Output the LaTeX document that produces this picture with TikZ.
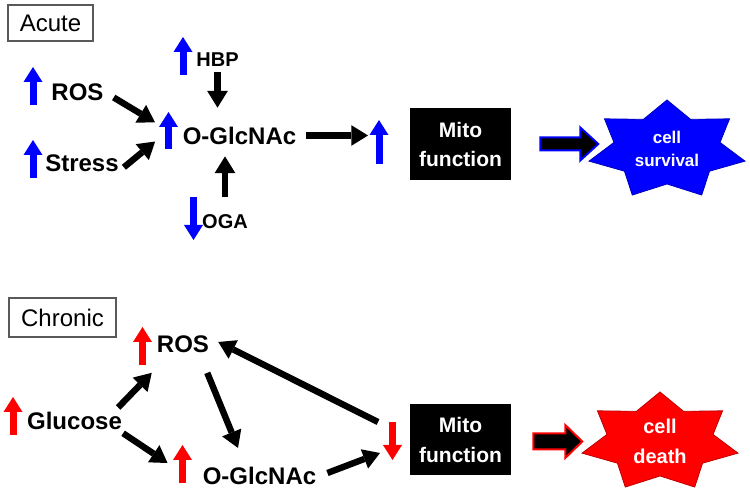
\documentclass[tikz,border=0pt]{standalone}
\usepackage{fontspec}
\setmainfont{Liberation Sans}
\usetikzlibrary{arrows.meta}
\begin{document}
\begin{tikzpicture}[x=0.75pt,y=-0.75pt,
 lbl/.style={inner sep=0pt, font=\bfseries\fontsize{18}{21}\selectfont, text height=12.9pt, text depth=0pt},
 lbls/.style={inner sep=0pt, font=\bfseries\fontsize{15}{18}\selectfont, text height=10.7pt, text depth=0pt},
 tag/.style={draw=black!65, line width=0.9pt, inner sep=0pt, font=\fontsize{18}{21}\selectfont},
 conn/.style={line width=4.8pt, -{Triangle[width=15.5pt,length=12.5pt,line width=0pt]}},
 indB/.style={blue, line width=5.25pt, -{Triangle[width=14.25pt,length=11.25pt,line width=0pt]}},
 indR/.style={indB, red},
 mito/.style={fill=black, text=white, inner sep=0pt, minimum width=75.75pt, align=center, font=\bfseries\fontsize{15.75}{21.75}\selectfont},
 fat/.style={fill=black, line width=1.5pt, line join=miter},
 startxt/.style={text=white, inner sep=0pt, align=center}
]
\useasboundingbox[fill=white] (0,0) rectangle (750,498);

% ---------------- Acute ----------------
\node[tag, minimum width=63.75pt, minimum height=27pt] (acute) at (50.5,23) {Acute};

\node[lbl] (rosA) at (77.5,91.5) {ROS};
\node[lbl] (stressA) at (82,162.5) {Stress};
\node[lbls] (hbpA) at (217.5,59) {HBP};
\node[lbl] (ogA) at (239.5,135.5) {O-GlcNAc};
\node[lbls] (ogaA) at (225,221.5) {OGA};
\node[mito, minimum height=54pt] (mitoA) at (460.5,144) {Mito\\function};

\coordinate (iRosA) at (33,86);
\coordinate (iStressA) at (33,159);
\coordinate (iHbpA) at (183,56);
\coordinate (iOgA) at (168.5,130.5);
\coordinate (iOgaA) at (193.5,218.5);
\coordinate (iMitoA) at (379,142);

\draw[indB] ([shift={(0,19)}]iRosA) -- ([shift={(0,-19)}]iRosA);
\draw[indB] ([shift={(0,19)}]iStressA) -- ([shift={(0,-19)}]iStressA);
\draw[indB] ([shift={(0,19)}]iHbpA) -- ([shift={(0,-19)}]iHbpA);
\draw[indB] ([shift={(0,18.5)}]iOgA) -- ([shift={(0,-18.5)}]iOgA);
\draw[indB] ([shift={(0,-21.5)}]iOgaA) -- ([shift={(0,21.5)}]iOgaA);
\draw[indB] ([shift={(0,22)}]iMitoA) -- ([shift={(0,-22)}]iMitoA);

\draw[conn, shorten <=8.7pt, shorten >=11.8pt] (rosA.east) -- (iOgA);
\draw[conn, shorten <=4.8pt, shorten >=13pt] (stressA.south east) -- (iOgA);
\draw[conn, shorten <=4.5pt, shorten >=14.25pt] (hbpA.south) -- (hbpA.south |- ogA.north);
\draw[conn, shorten <=12.75pt, shorten >=9pt] (ogaA.north) -- (ogaA.north |- ogA.south);
\draw[conn, shorten <=7.5pt, shorten >=8.25pt] (ogA.east) -- (ogA.east -| iMitoA);

% fat arrow and star (survival)
\draw[fat, draw=blue] ([shift={(29,-6.5)}]mitoA.east) -- ++(40,0) -- ++(0,-10) -- ++(18,16.5)
  -- ++(-18,16.5) -- ++(0,-10) -- ++(-40,0) -- cycle;
\begin{scope}[shift={(667,150)}, yscale=-1]
\filldraw[fill=blue, draw=blue!75!black, line width=0.6pt]
 (90:80 and 50) -- (64.286:54.4 and 34) -- (38.571:80 and 50) -- (12.857:54.4 and 34)
 -- (-12.857:80 and 50) -- (-38.571:54.4 and 34) -- (-64.286:80 and 50) -- (-90:54.4 and 34)
 -- (-115.714:80 and 50) -- (-141.429:54.4 and 34) -- (-167.143:80 and 50) -- (167.143:54.4 and 34)
 -- (141.429:80 and 50) -- (115.714:54.4 and 34) -- cycle;
\end{scope}
\node[startxt, font=\bfseries\fontsize{12.75}{17.25}\selectfont] (survive) at (667,149) {cell\\survival};

% ---------------- Chronic ----------------
\node[tag, minimum width=80.25pt, minimum height=29.25pt] (chronic) at (62.5,317.5) {Chronic};

\node[lbl] (rosB) at (183,344) {ROS};
\node[lbl] (glucB) at (74.5,421.4) {Glucose};
\node[lbl] (ogB) at (259.5,476.4) {O-GlcNAc};
\node[mito, minimum height=53.25pt, font=\bfseries\fontsize{15.75}{22.5}\selectfont] (mitoB) at (460.5,439.5) {Mito\\function};

\coordinate (iRosB) at (142.5,346);
\coordinate (iGluB) at (13,416);
\coordinate (iOgB) at (182.5,464);
\coordinate (iMitoB) at (392.5,441);

\draw[indR] ([shift={(0,19)}]iRosB) -- ([shift={(0,-19)}]iRosB);
\draw[indR] ([shift={(0,19)}]iGluB) -- ([shift={(0,-19)}]iGluB);
\draw[indR] ([shift={(0,19)}]iOgB) -- ([shift={(0,-19)}]iOgB);
\draw[indR] ([shift={(0,-19)}]iMitoB) -- ([shift={(0,19)}]iMitoB);

\draw[conn] ([shift={(-4,-5)}]glucB.north east) -- ([shift={(-5,20)}]rosB.south west);
\draw[conn] ([shift={(1,3)}]glucB.south east) -- ([shift={(-35,-13.4)}]ogB.west);
\draw[conn] ([shift={(-2,20)}]rosB.south east) -- ([shift={(-21.5,-19.6)}]ogB.north);
\draw[conn] ([shift={(11,-3.4)}]ogB.east) -- ([shift={(-12.5,12)}]iMitoB);
\draw[conn] ([shift={(-14.5,-19)}]iMitoB) -- ([shift={(9,-2)}]rosB.east);

% fat arrow and star (death)
\draw[fat, draw=red] ([shift={(22,-6)}]mitoB.east) -- ++(32,0) -- ++(0,-8.5) -- ++(17,16.5)
  -- ++(-17,16.5) -- ++(0,-8.5) -- ++(-32,0) -- cycle;
\begin{scope}[shift={(660,442)}, yscale=-1]
\filldraw[fill=red, draw=red!75!black, line width=0.6pt]
 (90:80 and 50) -- (64.286:54.4 and 34) -- (38.571:80 and 50) -- (12.857:54.4 and 34)
 -- (-12.857:80 and 50) -- (-38.571:54.4 and 34) -- (-64.286:80 and 50) -- (-90:54.4 and 34)
 -- (-115.714:80 and 50) -- (-141.429:54.4 and 34) -- (-167.143:80 and 50) -- (167.143:54.4 and 34)
 -- (141.429:80 and 50) -- (115.714:54.4 and 34) -- cycle;
\end{scope}
\node[startxt, font=\bfseries\fontsize{15}{22.5}\selectfont] (death) at (660,441) {cell\\death};
\end{tikzpicture}
\end{document}
